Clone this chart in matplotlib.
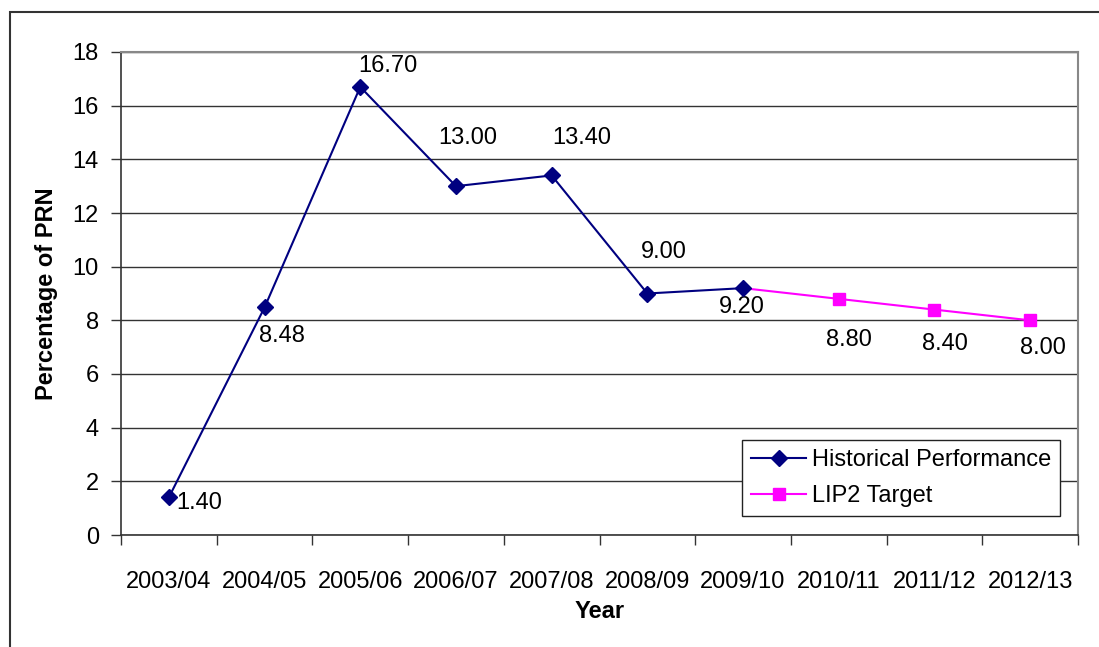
import numpy as np
import matplotlib.pyplot as plt
from matplotlib.patches import Rectangle

plt.rcParams['font.family'] = ['Liberation Sans', 'DejaVu Sans']

# PRN percentage by financial year
years = ['2003/04', '2004/05', '2005/06', '2006/07', '2007/08',
         '2008/09', '2009/10', '2010/11', '2011/12', '2012/13']
historical = [1.40, 8.48, 16.70, 13.00, 13.40, 9.00, 9.20]
target = [9.20, 8.80, 8.40, 8.00]   # starts from the 2009/10 actual

# label offsets in pixels (dx, dy) for each point
hist_off = [(30, -6), (17, -29), (28, 21), (12, 48), (30, 37), (16, 42), (-1, -19)]
targ_off = [(10, -41), (10, -34), (13, -28)]

FS = 17

fig = plt.figure(figsize=(10.99, 6.47), dpi=100)
ax = fig.add_axes([121/1099, 1 - 535/647, (1078-121)/1099, (535-52)/647])

# outer chart frame (only left and top edge fall inside the image)
fig.patches.append(Rectangle((10/1099, -0.1), 1.2, 1 - 12/647 + 0.1,
                             transform=fig.transFigure, fill=False,
                             edgecolor='#333333', linewidth=1.5))

xh = np.arange(len(historical))
xt = np.arange(len(historical) - 1, len(years))

ax.plot(xh, historical, color='#000080', lw=1.5, marker='D', ms=8.5,
        label='Historical Performance', zorder=4)
ax.plot(xt[1:], target[1:], color='#FF00FF', lw=1.5, marker='s', ms=8,
        linestyle='none', zorder=4)
ax.plot(xt, target, color='#FF00FF', lw=1.5, zorder=3)
# legend proxy for the target series
ax.plot([], [], color='#FF00FF', lw=1.5, marker='s', ms=8, label='LIP2 Target')

for x, v, (dx, dy) in zip(xh, historical, hist_off):
    ax.annotate('%.2f' % v, (x, v), xytext=(dx, dy), textcoords='offset pixels',
                ha='center', va='center', fontsize=FS, color='black')
for x, v, (dx, dy) in zip(xt[1:], target[1:], targ_off):
    ax.annotate('%.2f' % v, (x, v), xytext=(dx, dy), textcoords='offset pixels',
                ha='center', va='center', fontsize=FS, color='black')

ax.set_xlim(-0.5, len(years) - 0.5)
ax.set_ylim(0, 18)
ax.set_yticks(np.arange(0, 19, 2))
ax.set_xticks(np.arange(len(years)))
ax.set_xticklabels(years)
ax.set_xticks(np.arange(-0.5, len(years), 1), minor=True)
ax.tick_params(axis='x', which='major', length=0, pad=26, labelsize=FS)
ax.tick_params(axis='x', which='minor', length=7, width=1, color='#333333')
ax.tick_params(axis='y', length=7, width=1, color='#333333', pad=9, labelsize=FS)

ax.yaxis.grid(True, color='#333333', lw=1)
ax.set_axisbelow(True)
for s in ['top', 'right']:
    ax.spines[s].set_color('#888888')
    ax.spines[s].set_linewidth(1.5)
for s in ['left', 'bottom']:
    ax.spines[s].set_color('#333333')
    ax.spines[s].set_linewidth(1.2)

ax.set_xlabel('Year', fontsize=FS, fontweight='bold')
ax.xaxis.set_label_coords(0.5, (535 - 612) / 483)
ax.xaxis.label.set_va('center')
ax.set_ylabel('Percentage of PRN', fontsize=FS, fontweight='bold')
ax.yaxis.set_label_coords((47 - 121) / 957, 0.5)
ax.yaxis.label.set_va('center')

leg = ax.legend(loc='lower right', bbox_to_anchor=(0.981, 0.0393),
                borderaxespad=0, fancybox=False, framealpha=1,
                edgecolor='#222222', fontsize=FS, handlelength=2.3,
                borderpad=0.38, labelspacing=0.6, handletextpad=0.25)
leg.get_frame().set_linewidth(1)

fig.savefig('out.png', dpi=100)
